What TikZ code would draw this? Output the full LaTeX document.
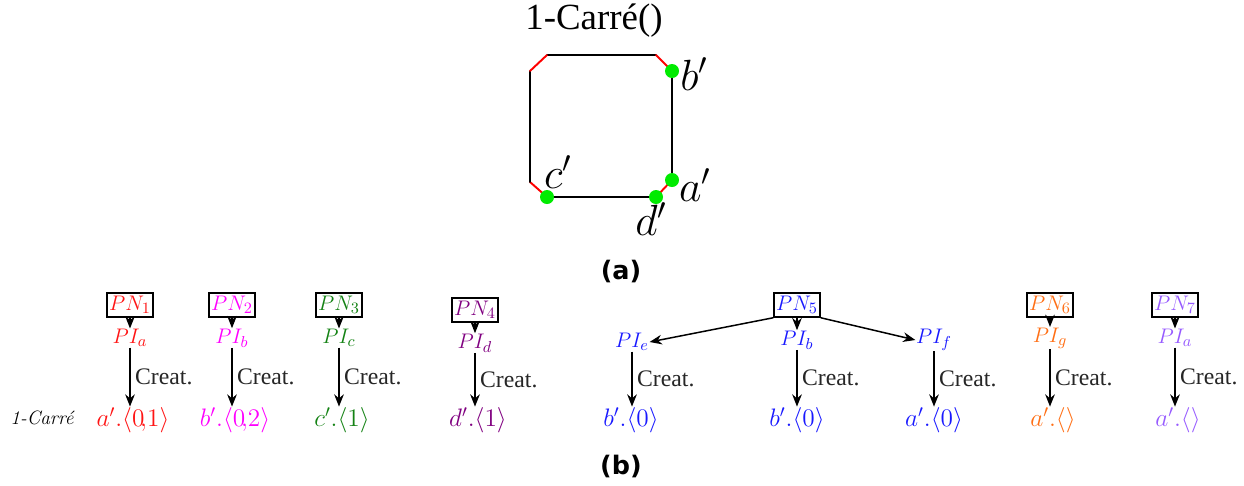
\documentclass[tikz,border=0pt]{standalone}
\usepackage{fontspec}
\newfontfamily\timesfont{Liberation Serif}
\newfontfamily\capfont{DejaVu Sans}
\usetikzlibrary{positioning}
\usetikzlibrary{arrows.meta}
\definecolor{cone}{RGB}{255,20,20}
\definecolor{ctwo}{RGB}{255,0,255}
\definecolor{cthree}{RGB}{20,130,20}
\definecolor{cfour}{RGB}{128,0,128}
\definecolor{cfive}{RGB}{25,25,255}
\definecolor{csix}{RGB}{255,110,20}
\definecolor{cseven}{RGB}{150,90,255}
\definecolor{dotgreen}{RGB}{0,235,0}

\tikzset{
    pnbox/.style={draw, line width=0.85pt, inner sep=1pt, minimum width=0.92cm,
        minimum height=0.48cm, font=\fontsize{12.5}{14}\selectfont},
    pilab/.style={inner sep=0pt, font=\fontsize{12.5}{14}\selectfont},
    outlab/.style={inner sep=0pt, font=\fontsize{14.5}{17}\selectfont},
    creat/.style={right, inner sep=2.5pt, text=black!85, font=\timesfont\fontsize{13.5}{15}\selectfont},
    side/.style={line width=1.1pt, line cap=round},
    vdot/.style={circle, fill=dotgreen, inner sep=0pt, minimum size=0.28cm},
    biglab/.style={inner sep=0pt, font=\fontsize{24}{28}\selectfont},
    caplab/.style={font=\capfont\bfseries\fontsize{14.5}{17}\selectfont}
}

\begin{document}
\begin{tikzpicture}[x=0.02cm, y=-0.02cm, >={Stealth[length=7pt,width=5.5pt]}, line width=0.85pt]
\useasboundingbox (0,0) rectangle (1244,485);

% --- (a) ---
\node[font=\timesfont\fontsize{21}{24}\selectfont] (title) at (594,21) {1-Carré()};
\coordinate (tl1) at (547,55);
\coordinate (tr1) at (656,55);
\coordinate (tr2) at (672,71);
\coordinate (br2) at (672,180);
\coordinate (br1) at (656,197);
\coordinate (bl1) at (547,197);
\coordinate (bl2) at (530,182);
\coordinate (tl2) at (530,71);
\foreach \a/\b/\c in {tl1/tr1/black, tr1/tr2/red, tr2/br2/black, br2/br1/red,
    br1/bl1/black, bl1/bl2/red, bl2/tl2/black, tl2/tl1/red} {
    \draw[side, \c] (\a) -- (\b);
}
\node[vdot] (db) at (tr2) {};
\node[vdot] (da) at (br2) {};
\node[vdot] (dd) at (br1) {};
\node[vdot] (dc) at (bl1) {};
\node[biglab] (lb) at (694,74) {$b'$};
\node[biglab] (la) at (695,185) {$a'$};
\node[biglab] (ld) at (651,219) {$d'$};
\node[biglab] (lc) at (558,172) {$c'$};
\node[caplab] (capa) at (621,272) {(a)};

% --- (b) ---
\node[font=\itshape\fontsize{11}{13}\selectfont] (rowname) at (42,418) {1-Carré};
\foreach \n/\x/\y/\sub/\col/\out in {
    1/130/305/a/cone/{a'.\langle 0\!,\!1\rangle},
    2/232/305/b/ctwo/{b'.\langle 0\!,\!2\rangle},
    3/339/305/c/cthree/{c'.\langle 1\rangle},
    4/475/310/d/cfour/{d'.\langle 1\rangle},
    6/1050/305/g/csix/{a'.\langle\rangle},
    7/1175/305/a/cseven/{a'.\langle\rangle}
} {
    \node[pnbox, text=\col] (pn\n) at (\x,\y) {$PN_{\n}$};
    \node[pilab, text=\col] (pi\n) at (\x,\y+33) {$PI_{\sub}$};
    \node[outlab, text=\col] (out\n) at (\x+3,420) {$\out$};
    \draw[->] (pn\n) -- (pi\n);
    \draw[->] (pi\n) -- node[creat] {Creat.} (pi\n |- out\n.north);
}

% --- PN5 with three children ---
\node[pnbox, text=cfive] (pn5) at (797,305) {$PN_5$};
\node[pilab, text=cfive] (pie) at (632,342) {$PI_e$};
\node[pilab, text=cfive] (pib) at (797,340) {$PI_b$};
\node[pilab, text=cfive] (pif) at (934,340) {$PI_f$};
\node[outlab, text=cfive] (oute) at (631,420) {$b'.\langle 0\rangle$};
\node[outlab, text=cfive] (outb) at (797,420) {$b'.\langle 0\rangle$};
\node[outlab, text=cfive] (outf) at (934,420) {$a'.\langle 0\rangle$};
\draw[->] (pn5.south west) -- (pie.east);
\draw[->] (pn5) -- (pib);
\draw[->] (pn5.south east) -- (pif.west);
\draw[->] (pie) -- node[creat] {Creat.} (pie |- oute.north);
\draw[->] (pib) -- node[creat] {Creat.} (pib |- outb.north);
\draw[->] (pif) -- node[creat] {Creat.} (pif |- outf.north);

\node[caplab] (capb) at (621,466) {(b)};
\end{tikzpicture}
\end{document}
